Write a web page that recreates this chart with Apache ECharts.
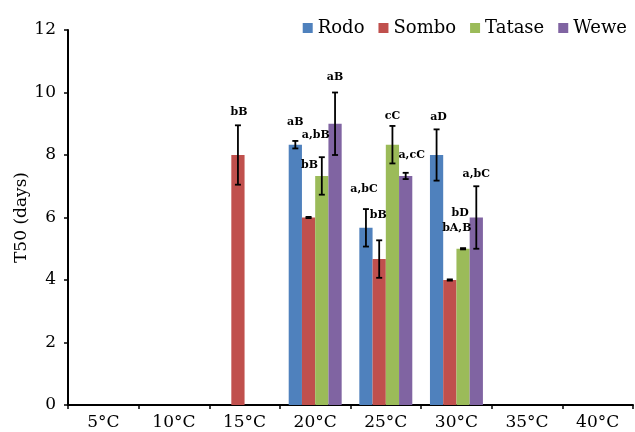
<!DOCTYPE html>
<html>
<head>
<meta charset="utf-8">
<script src="https://cdn.jsdelivr.net/npm/echarts@6/dist/echarts.min.js"></script>
<style>html,body{margin:0;padding:0;background:#fff}#c{width:635px;height:432px}</style>
</head>
<body>
<div id="c"></div>
<script>
// ---- data ----
var categories = ['5°C', '10°C', '15°C', '20°C', '25°C', '30°C', '35°C', '40°C'];
var seriesNames = ['Rodo', 'Sombo', 'Tatase', 'Wewe'];
var rodo   = [null, null, null, 8.33, 5.67, 8.0, null, null];
var sombo  = [null, null, 8.0, 6.0, 4.67, 4.0, null, null];
var tatase = [null, null, null, 7.33, 8.33, 5.0, null, null];
var wewe   = [null, null, null, 9.0, 7.33, 6.0, null, null];
var rodoErr   = [0, 0, 0, 0.12, 0.6, 0.82, 0, 0];
var somboErr  = [0, 0, 0.95, 0.02, 0.6, 0.02, 0, 0];
var tataseErr = [0, 0, 0, 0.6, 0.6, 0.02, 0, 0];
var weweErr   = [0, 0, 0, 1.0, 0.1, 1.0, 0, 0];
var rodoLbl   = ['', '', '', 'aB', 'a,bC', 'aD', '', ''];
var somboLbl  = ['', '', 'bB', 'bB', 'bB', 'bA,B', '', ''];
var tataseLbl = ['', '', '', 'a,bB', 'cC', 'bD', '', ''];
var weweLbl   = ['', '', '', 'aB', 'a,cC', 'a,bC', '', ''];
var yTicks = [0, 2, 4, 6, 8, 10, 12];

// ---- style / layout (label offsets in px from error-bar top) ----
var colors = ['#4F81BD', '#C0504D', '#9BBB59', '#8064A2'];
var labelOffsets = [
  [null, null, null, [0, -19], [-2, -20], [2, -12], null, null],
  [null, null, [1, -13], [1, -52], [-1, -25], [7, -51], null, null],
  [null, null, null, [-6, -22], [0, -10], [-3, -35], null, null],
  [null, null, null, [0, -15], [6, -18], [0, -12], null, null]
];

var values = [rodo, sombo, tatase, wewe];
var errs = [rodoErr, somboErr, tataseErr, weweErr];
var lbls = [rodoLbl, somboLbl, tataseLbl, weweLbl];
var nS = seriesNames.length;
var catGap = 0.25;

var chart = echarts.init(document.getElementById('c'), null, {renderer: 'canvas'});
var series = [];
seriesNames.forEach(function (name, s) {
  series.push({
    name: name, type: 'bar', data: values[s],
    barGap: '0%', barCategoryGap: (catGap * 100) + '%',
    itemStyle: {color: colors[s]},
    emphasis: {disabled: true}, z: 2
  });
});

var errData = [];
for (var s = 0; s < nS; s++) {
  for (var i = 0; i < categories.length; i++) {
    if (values[s][i] == null) continue;
    var off = labelOffsets[s][i] || [0, -12];
    errData.push([i, values[s][i] - errs[s][i], values[s][i] + errs[s][i], s, lbls[s][i], off[0], off[1]]);
  }
}

series.push({
  type: 'custom', name: 'err', z: 10, silent: true,
  data: errData,
  encode: {x: 0, y: [1, 2]},
  renderItem: function (params, api) {
    var ci = api.value(0), lo = api.value(1), hi = api.value(2), s = api.value(3);
    var text = api.value(4), dx = api.value(5), dy = api.value(6);
    var band = api.size([1, 0])[0];
    var bw = band * (1 - catGap) / nS;
    var xOff = (s - (nS - 1) / 2) * bw;
    var pHi = api.coord([ci, hi]);
    var pLo = api.coord([ci, lo]);
    var x = pHi[0] + xOff;
    var cap = 3;
    var lineStyle = {stroke: '#000', lineWidth: 1.8};
    return {
      type: 'group',
      children: [
        {type: 'line', shape: {x1: x, y1: pHi[1], x2: x, y2: pLo[1]}, style: lineStyle},
        {type: 'line', shape: {x1: x - cap, y1: pHi[1], x2: x + cap, y2: pHi[1]}, style: lineStyle},
        {type: 'line', shape: {x1: x - cap, y1: pLo[1], x2: x + cap, y2: pLo[1]}, style: lineStyle},
        {type: 'text', style: {
          text: text, x: x + dx, y: pHi[1] + dy,
          align: 'center', verticalAlign: 'middle',
          font: 'bold 11px "DejaVu Serif"', fill: '#000'
        }}
      ]
    };
  }
});

var option = {
  animation: false,
  backgroundColor: '#fff',
  grid: {left: 68, right: 2, top: 30, bottom: 27, containLabel: false},
  legend: {
    data: seriesNames, right: 3, top: 14,
    itemWidth: 10, itemHeight: 10, itemGap: 14,
    icon: 'rect',
    textStyle: {fontFamily: 'DejaVu Serif', fontSize: 18, color: '#000'}
  },
  xAxis: {
    type: 'category', data: categories,
    axisLine: {lineStyle: {color: '#000', width: 2}},
    axisTick: {show: true, length: 4, lineStyle: {color: '#000', width: 1.5}},
    axisLabel: {fontFamily: 'DejaVu Serif', fontSize: 17, color: '#000', margin: 9}
  },
  yAxis: {
    type: 'value', min: yTicks[0], max: yTicks[yTicks.length - 1], interval: yTicks[1] - yTicks[0],
    name: 'T50 (days)', nameLocation: 'middle', nameGap: 38, nameRotate: 90,
    nameMoveOverlap: false,
    nameTextStyle: {fontFamily: 'DejaVu Serif', fontSize: 17, color: '#000'},
    axisLine: {show: true, lineStyle: {color: '#000', width: 2}},
    axisTick: {show: true, length: 4, lineStyle: {color: '#000', width: 1.5}},
    axisLabel: {fontFamily: 'DejaVu Serif', fontSize: 17, color: '#000', margin: 12},
    splitLine: {show: false}
  },
  series: series
};
chart.setOption(option);
</script>
</body>
</html>
